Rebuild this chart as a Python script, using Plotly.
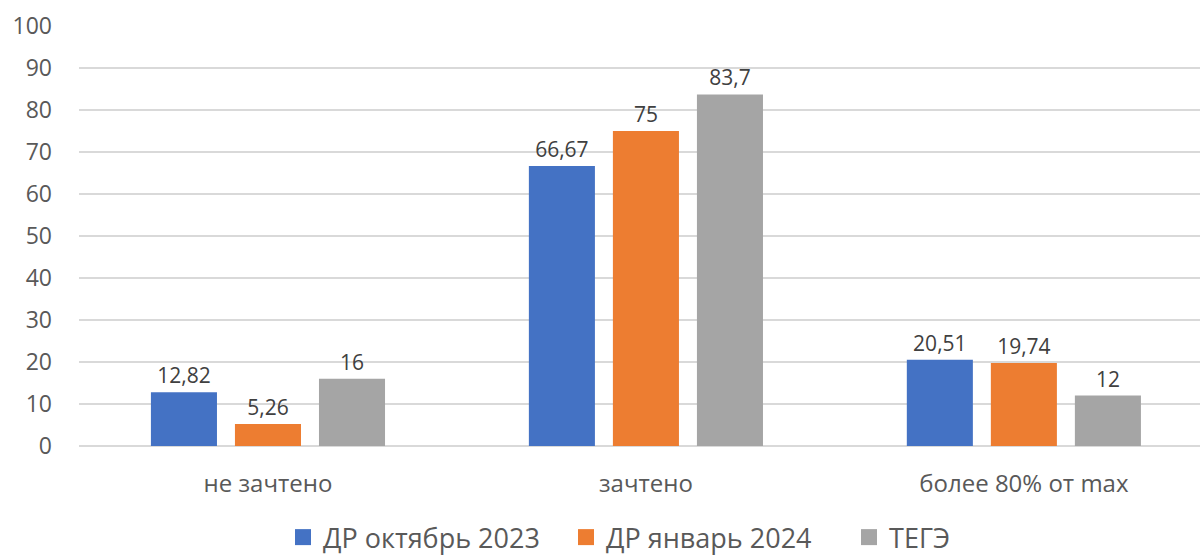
import plotly.graph_objects as go

categories = ["не зачтено", "зачтено", "более 80% от max"]
series_names = ["ДР октябрь 2023", "ДР январь 2024", "ТЕГЭ"]
oct2023 = [12.82, 66.67, 20.51]
jan2024 = [5.26, 75, 19.74]
tege = [16, 83.7, 12]
colors = ["#4472C4", "#ED7D31", "#A5A5A5"]
y_ticks = [0, 10, 20, 30, 40, 50, 60, 70, 80, 90, 100]

def fmt(v):
    s = ("%.2f" % v).rstrip("0").rstrip(".")
    return s.replace(".", ",")

fig = go.Figure()
for name, vals, c in zip(series_names, [oct2023, jan2024, tege], colors):
    fig.add_trace(go.Bar(
        x=categories, y=vals, name=name, marker_color=c, marker_line_width=0,
        text=[fmt(v) for v in vals], textposition="outside",
        textfont=dict(size=21, color="#404040"), cliponaxis=False,
        showlegend=False,
    ))
# legend entries with larger square swatches
for name, c in zip(series_names, colors):
    fig.add_trace(go.Scatter(
        x=[None], y=[None], mode="markers", name=name,
        marker=dict(symbol="square", size=17, color=c), showlegend=True,
    ))

font = "Open Sans, Liberation Sans, sans-serif"
fig.update_layout(
    width=1200, height=557,
    margin=dict(l=79, r=0, t=26, b=111, autoexpand=False),
    plot_bgcolor="white", paper_bgcolor="white",
    barmode="group", bargap=0.333, bargroupgap=0.214,
    font=dict(family=font, color="#595959"),
    xaxis=dict(tickfont=dict(size=24, color="#595959"), ticklabelstandoff=21,
               range=[-0.5, 2.466],
               showline=False, showgrid=False, automargin=False),
    yaxis=dict(range=[0, 100], tickvals=y_ticks, tickfont=dict(size=23, color="#595959"),
               showgrid=True, gridcolor="#D9D9D9", gridwidth=1.5,
               zeroline=True, zerolinecolor="#D9D9D9", zerolinewidth=1.5,
               ticklabelstandoff=26, showline=False, automargin=False),
    legend=dict(orientation="h", x=0.182, xanchor="left", y=-0.218, yanchor="middle",
                font=dict(size=27, color="#595959"), itemwidth=30, traceorder="normal",
                entrywidth=238, entrywidthmode="pixels"),
)
fig.update_traces(selector=dict(type="bar"), textangle=0)
fig.write_html("out.html", config={"displayModeBar": False},
               post_script="document.body.style.margin='0';document.body.style.overflow='hidden';")
